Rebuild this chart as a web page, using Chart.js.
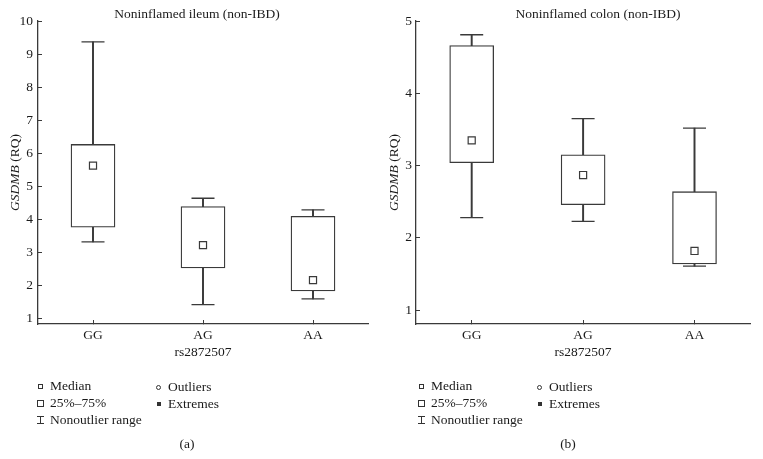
<!DOCTYPE html>
<html lang="en">
<head>
    <meta charset="UTF-8" />
    <title>GSDMB expression by rs2872507 genotype</title>
    <script src="https://cdn.jsdelivr.net/npm/chart.js"></script>
    <style>
        body { margin: 0; background: #fff; font-family: "Liberation Serif", serif; color: #1a1a1a; }
        #wrap { position: relative; width: 763px; height: 459px; overflow: hidden; }
        canvas { position: absolute; top: 0; }
        .lg { position: absolute; font-size: 13.5px; line-height: 16px; white-space: nowrap; }
        .sym { position: absolute; box-sizing: border-box; }
        .cap { position: absolute; font-size: 13.5px; transform: translateX(-50%); }
    </style>
</head>
<body>
<div id="wrap">
    <canvas id="ileumChart" width="381" height="459" style="left:0"></canvas>
    <canvas id="colonChart" width="382" height="459" style="left:381px"></canvas>
    <div id="legends"></div>
</div>

<script>
    const genotypes = ['GG', 'AG', 'AA'];

    // Noninflamed ileum (non-IBD)
    const ileumMin = [3.31, 1.41, 1.58];
    const ileumQ1 = [3.75, 2.52, 1.82];
    const ileumMedian = [5.62, 3.21, 2.15];
    const ileumQ3 = [6.26, 4.38, 4.08];
    const ileumMax = [9.37, 4.63, 4.28];
    const ileumTicks = [1, 2, 3, 4, 5, 6, 7, 8, 9, 10];

    // Noninflamed colon (non-IBD)
    const colonMin = [2.28, 2.23, 1.61];
    const colonQ1 = [3.04, 2.46, 1.64];
    const colonMedian = [3.35, 2.87, 1.82];
    const colonQ3 = [4.66, 3.15, 2.64];
    const colonMax = [4.81, 3.65, 3.52];
    const colonTicks = [1, 2, 3, 4, 5];

    const ink = '#3a3a3a';
    const textInk = '#1a1a1a';
    const serif = '"Liberation Serif", serif';
    const fs = 13.5;

    // panel title + y axis title (italic gene name)
    const textPlugin = {
        id: 'panelText',
        afterDraw(chart, args, opts) {
            const { ctx, chartArea } = chart;
            ctx.save();
            ctx.fillStyle = textInk;
            ctx.textBaseline = 'middle';
            ctx.textAlign = 'center';
            ctx.font = fs + 'px ' + serif;
            ctx.fillText(opts.title, opts.titleX, 14);

            ctx.textAlign = 'left';
            ctx.translate(opts.yTitleX, (chartArea.top + chartArea.bottom) / 2);
            ctx.rotate(-Math.PI / 2);
            ctx.font = 'italic ' + fs + 'px ' + serif;
            const w1 = ctx.measureText('GSDMB').width;
            ctx.font = fs + 'px ' + serif;
            const w2 = ctx.measureText(' (RQ)').width;
            const start = -(w1 + w2) / 2;
            ctx.font = 'italic ' + fs + 'px ' + serif;
            ctx.fillText('GSDMB', start, 0);
            ctx.font = fs + 'px ' + serif;
            ctx.fillText(' (RQ)', start + w1, 0);
            ctx.restore();
        }
    };

    function makePanel(id, title, titleX, mins, q1s, medians, q3s, maxs, tickValues, yMin, yMax, axisWidth, rightPad, yTitleX, labelPad) {
        const zip = (a, b) => a.map((v, i) => [v, b[i]]);
        return new Chart(document.getElementById(id), {
            type: 'bar',
            plugins: [textPlugin],
            data: {
                labels: genotypes,
                datasets: [
                    {
                        type: 'line', label: 'Median', data: medians, showLine: false,
                        pointStyle: 'rect', pointRadius: 5, pointBackgroundColor: '#fff',
                        pointBorderColor: ink, pointBorderWidth: 1.2, order: 1
                    },
                    {
                        type: 'line', label: 'Max', data: maxs, showLine: false,
                        pointStyle: 'line', pointRadius: 11.5, pointBorderColor: ink,
                        pointBorderWidth: 1.3, order: 2
                    },
                    {
                        type: 'line', label: 'Min', data: mins, showLine: false,
                        pointStyle: 'line', pointRadius: 11.5, pointBorderColor: ink,
                        pointBorderWidth: 1.3, order: 2
                    },
                    {
                        label: '25%-75%', data: zip(q1s, q3s), grouped: false,
                        barThickness: 44, backgroundColor: '#fff', borderColor: ink,
                        borderWidth: 1.3, borderSkipped: false, order: 3
                    },
                    {
                        label: 'Nonoutlier range', data: zip(mins, maxs), grouped: false,
                        barThickness: 1.3, backgroundColor: ink, borderWidth: 0, order: 4
                    }
                ]
            },
            options: {
                responsive: false,
                animation: false,
                events: [],
                layout: { padding: { left: 0, top: 21, right: rightPad, bottom: 98 } },
                plugins: {
                    legend: { display: false },
                    tooltip: { enabled: false },
                    title: { display: false },
                    panelText: { title: title, titleX: titleX, yTitleX: yTitleX }
                },
                scales: {
                    x: {
                        offset: true,
                        grid: { offset: false, drawOnChartArea: false, tickLength: -4, color: ink },
                        border: { color: ink, width: 1.3 },
                        ticks: { color: textInk, padding: 7, font: { family: serif, size: fs } },
                        title: {
                            display: true, text: 'rs2872507', color: textInk,
                            font: { family: serif, size: fs }, padding: 0
                        },
                        afterFit: s => { s.height = 37; }
                    },
                    y: {
                        min: yMin, max: yMax,
                        grid: { drawOnChartArea: false, tickLength: -4, color: ink },
                        border: { color: ink, width: 1.3 },
                        ticks: { color: textInk, padding: labelPad, font: { family: serif, size: fs } },
                        afterBuildTicks: s => { s.ticks = tickValues.map(v => ({ value: v })); },
                        afterFit: s => { s.width = axisWidth; }
                    }
                }
            }
        });
    }

    makePanel('ileumChart', 'Noninflamed ileum (non-IBD)', 197, ileumMin, ileumQ1, ileumMedian, ileumQ3, ileumMax,
        ileumTicks, 0.82, 10, 38, 13, 15, 9);
    makePanel('colonChart', 'Noninflamed colon (non-IBD)', 217, colonMin, colonQ1, colonMedian, colonQ3, colonMax,
        colonTicks, 0.81, 5, 35, 8, 13, 8);

    // key below each panel
    function addLegend(left, letter) {
        const box = document.getElementById('legends');
        const items = [
            { sym: 'width:5px;height:5px;border:1px solid #333;', sx: 38, sy: 384, text: 'Median', tx: 50, ty: 378 },
            { sym: 'width:7px;height:7px;border:1px solid #333;', sx: 37, sy: 400, text: '25%–75%', tx: 50, ty: 395 },
            { sym: 'width:7px;height:8px;border-top:1px solid #333;border-bottom:1px solid #333;', sx: 37, sy: 416, text: 'Nonoutlier range', tx: 50, ty: 412 },
            { sym: 'width:5px;height:5px;border:1px solid #333;border-radius:50%;', sx: 156, sy: 385, text: 'Outliers', tx: 168, ty: 379 },
            { sym: 'width:4px;height:4px;background:#333;', sx: 157, sy: 402, text: 'Extremes', tx: 168, ty: 396 }
        ];
        items.forEach(it => {
            const s = document.createElement('span');
            s.className = 'sym';
            s.style.cssText = it.sym + 'left:' + (left + it.sx) + 'px;top:' + it.sy + 'px;';
            box.appendChild(s);
            const t = document.createElement('div');
            t.className = 'lg';
            t.style.left = (left + it.tx) + 'px';
            t.style.top = it.ty + 'px';
            t.textContent = it.text;
            box.appendChild(t);
        });
        // vertical stem of the range symbol
        const stem = document.createElement('span');
        stem.className = 'sym';
        stem.style.cssText = 'width:1px;height:8px;background:#333;left:' + (left + 40) + 'px;top:416px;';
        box.appendChild(stem);
        const cap = document.createElement('div');
        cap.className = 'cap';
        cap.style.left = (left + 187) + 'px';
        cap.style.top = '436px';
        cap.textContent = letter;
        box.appendChild(cap);
    }
    addLegend(0, '(a)');
    addLegend(381, '(b)');
</script>
</body>
</html>
